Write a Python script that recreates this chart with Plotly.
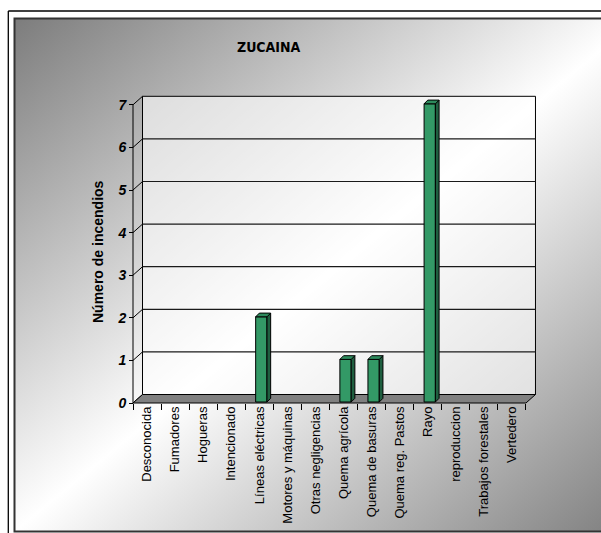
import base64
import plotly.graph_objects as go

# ---- data ----
categories = ["Desconocida", "Fumadores", "Hogueras", "Intencionado", "Líneas eléctricas",
              "Motores y máquinas", "Otras negligencias", "Quema agrícola", "Quema de basuras",
              "Quema reg. Pastos", "Rayo", "reproduccion", "Trabajos forestales", "Vertedero"]
incendios = [0, 0, 0, 0, 2, 0, 0, 1, 1, 0, 7, 0, 0, 0]
y_ticks = [0, 1, 2, 3, 4, 5, 6, 7]
title_text = "ZUCAINA"
y_title = "Número de incendios"

# ---- geometry (pixels) ----
W_FIG, H_FIG = 601, 533
PX_L = 133.0          # pixel of x=-0.5 on the front plane
PXU = 28.07           # pixels per category
PY0 = 403.0           # pixel of y=0 on the front plane
PYU = 42.6            # pixels per unit
PA_L, PA_R, PA_T, PA_B = 125, 541, 90, 407

n = len(categories)
x_min = -0.5 - (PX_L - PA_L) / PXU
x_max = -0.5 + (PA_R - PX_L) / PXU
y_min = -(PA_B - PY0) / PYU
y_max = (PY0 - PA_T) / PYU

DX = 9.5 / PXU        # depth offset of back wall
DY = 8.5 / PYU
DXB = 2.0 / PXU       # bar front plane offset
DYB = 1.0 / PYU
BW = 11.3 / PXU       # bar width
BDX = 3.7 / PXU       # bar depth
BDY = 3.7 / PYU
top_v = max(y_ticks)


def pxx(p):
    return (p - PA_L) / (PA_R - PA_L)


def pxy(p):
    return (PA_B - p) / (PA_B - PA_T)


def svg_uri(stops):
    st = "".join(f'<stop offset="{o}" stop-color="{c}"/>' for o, c in stops)
    svg = ('<svg xmlns="http://www.w3.org/2000/svg" width="100" height="100" viewBox="0 0 100 100" '
           'preserveAspectRatio="none"><defs><linearGradient id="g" x1="0" y1="0" x2="1" y2="1">'
           f'{st}</linearGradient></defs><rect x="0" y="0" width="100" height="100" fill="url(#g)"/></svg>')
    return "data:image/svg+xml;base64," + base64.b64encode(svg.encode()).decode()


fig = go.Figure()

# ---- bars (front faces) ----
xs = [i for i, v in enumerate(incendios) if v > 0]
vs = [v for v in incendios if v > 0]
fig.add_trace(go.Bar(
    x=xs, y=vs, base=DYB, width=BW, offset=-BW / 2 + DXB,
    marker=dict(color="#339966", line=dict(color="#000000", width=1)),
    hoverinfo="skip", showlegend=False))

# side and top faces computed from the values
side_x, side_y, top_x, top_y = [], [], [], []
for i, v in zip(xs, vs):
    x0 = i - BW / 2 + DXB
    x1 = x0 + BW
    b = DYB
    t = v + DYB
    side_x += [x1, x1 + BDX, x1 + BDX, x1, x1, None]
    side_y += [b, b + BDY, t + BDY, t, b, None]
    top_x += [x0, x1, x1 + BDX, x0 + BDX, x0, None]
    top_y += [t, t, t + BDY, t + BDY, t, None]
fig.add_trace(go.Scatter(x=side_x, y=side_y, mode="lines", fill="toself", fillcolor="#1f5f40",
                         line=dict(color="#000000", width=1), hoverinfo="skip", showlegend=False))
fig.add_trace(go.Scatter(x=top_x, y=top_y, mode="lines", fill="toself", fillcolor="#2d8a5c",
                         line=dict(color="#000000", width=1), hoverinfo="skip", showlegend=False))

shapes = []
# back wall (semi-transparent white)
shapes.append(dict(type="rect", xref="x", yref="y", x0=-0.5 + DX, x1=n - 0.5 + DX, y0=DY, y1=top_v + DY,
                   fillcolor="rgba(255,255,255,0.6)", line=dict(color="#000000", width=1), layer="below"))
# gridlines on the wall and side diagonals
for v in y_ticks:
    if 0 < v < top_v:
        shapes.append(dict(type="line", xref="x", yref="y", x0=-0.5 + DX, x1=n - 0.5 + DX, y0=v + DY, y1=v + DY,
                           line=dict(color="#1a1a1a", width=1.2), layer="below"))
    shapes.append(dict(type="line", xref="x", yref="y", x0=-0.5, x1=-0.5 + DX, y0=v, y1=v + DY,
                       line=dict(color="#000000", width=1), layer="below"))
# floor
shapes.append(dict(type="path", xref="x", yref="y",
                   path=f"M {-0.5},0 L {n - 0.5},0 L {n - 0.5 + DX},{DY} L {-0.5 + DX},{DY} Z",
                   fillcolor="#808080", line=dict(color="#000000", width=1), layer="below"))
# front vertical axis line
shapes.append(dict(type="line", xref="x", yref="y", x0=-0.5, x1=-0.5, y0=0, y1=top_v,
                   line=dict(color="#000000", width=1), layer="below"))

# frame lines (paper)
shapes.append(dict(type="rect", xref="paper", yref="paper", x0=pxx(14.5), x1=pxx(640), y0=pxy(531.5), y1=pxy(18.5),
                   fillcolor="rgba(0,0,0,0)", line=dict(color="#333333", width=2), layer="above"))
shapes.append(dict(type="line", xref="paper", yref="paper", x0=pxx(8.3), x1=pxx(8.3), y0=pxy(540), y1=pxy(11),
                   line=dict(color="#000000", width=1.3), layer="above"))
shapes.append(dict(type="line", xref="paper", yref="paper", x0=pxx(8.3), x1=pxx(640), y0=pxy(11), y1=pxy(11),
                   line=dict(color="#000000", width=1.3), layer="above"))

images = [dict(source=svg_uri([(0, "#7c7c7c"), (0.5, "#ffffff"), (1, "#7c7c7c")]),
               xref="paper", yref="paper", x=pxx(14), y=pxy(18), sizex=pxx(640) - pxx(14),
               sizey=pxy(18) - pxy(532), xanchor="left", yanchor="top", sizing="stretch", layer="below")]

annotations = [
    dict(text=title_text, xref="paper", yref="paper", x=pxx(269), y=pxy(47), showarrow=False,
         xanchor="center", yanchor="middle",
         font=dict(family="DejaVu Sans Condensed, Liberation Sans Narrow, Arial Narrow", size=14,
                   color="#000000", weight="bold")),
    dict(text=y_title, xref="paper", yref="paper", x=pxx(98), y=pxy(252), showarrow=False, textangle=-90,
         xanchor="center", yanchor="middle",
         font=dict(family="Liberation Sans, Arial", size=14, color="#000000", weight="bold")),
]

fig.update_layout(
    width=W_FIG, height=H_FIG,
    margin=dict(l=PA_L, r=W_FIG - PA_R, t=PA_T, b=H_FIG - PA_B, pad=0, autoexpand=False),
    paper_bgcolor="#ffffff", plot_bgcolor="rgba(0,0,0,0)",
    shapes=shapes, images=images, annotations=annotations,
    showlegend=False, bargap=0,
    xaxis=dict(range=[x_min, x_max], tickmode="array", tickvals=list(range(n)), ticktext=categories,
               tickangle=-90, ticks="", showgrid=False, zeroline=False, showline=False, automargin=False,
               anchor="free", position=(PA_B - PY0) / (PA_B - PA_T),
               tickfont=dict(family="Liberation Sans, Arial", size=13, color="#000000"),
               minor=dict(tickmode="array", tickvals=[k - 0.5 for k in range(n + 1)], ticks="outside",
                          ticklen=6, tickcolor="#000000", tickwidth=1, showgrid=False)),
    yaxis=dict(range=[y_min, y_max], tickmode="array", tickvals=y_ticks, ticks="outside", ticklen=4,
               tickcolor="#000000", showgrid=False, zeroline=False, showline=False, automargin=False,
               anchor="free", position=(PX_L - PA_L) / (PA_R - PA_L),
               tickfont=dict(family="Liberation Sans, Arial", size=14, color="#000000",
                             weight="bold", style="italic")),
)

fig.write_html("out.html", config={"displayModeBar": False, "staticPlot": True},
               post_script="document.body.style.margin='0';document.body.style.overflow='hidden';")
